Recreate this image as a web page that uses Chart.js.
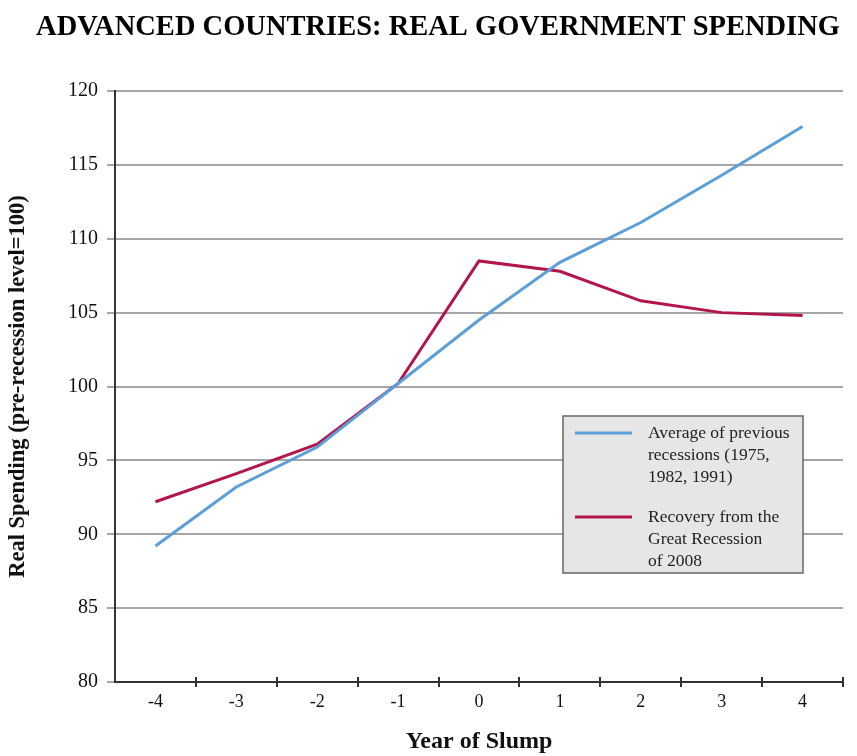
<!DOCTYPE html>
<html>
<head>
<meta charset="utf-8">
<script src="https://cdn.jsdelivr.net/npm/chart.js@4.4.1/dist/chart.umd.min.js"></script>
<style>
  html, body { margin: 0; padding: 0; background: #fff; }
  #wrap { width: 857px; height: 756px; position: relative; }
</style>
</head>
<body>
<div id="wrap"><canvas id="spendingChart"></canvas></div>
<script>
// Real government spending around the slump year, pre-recession level = 100
const years = ['-4', '-3', '-2', '-1', '0', '1', '2', '3', '4'];
const previousAvg = [89.2, 93.2, 95.9, 100.2, 104.5, 108.4, 111.1, 114.3, 117.6];
const greatRecession = [92.2, 94.1, 96.1, 100.2, 108.5, 107.8, 105.8, 105.0, 104.8];

const previousLabel = ['Average of previous', 'recessions (1975,', '1982, 1991)'];
const recessionLabel = ['Recovery from the', 'Great Recession', 'of 2008'];

const BLUE = '#5b9fd9';
const RED = '#b2164c';
const SERIF = "'Liberation Serif', 'Times New Roman', serif";

// heading above the plot
const titlePlugin = {
    id: 'heading',
    afterDraw(chart) {
        const ctx = chart.ctx;
        ctx.save();
        ctx.font = 'bold 28.5px ' + SERIF;
        ctx.fillStyle = '#000';
        ctx.textAlign = 'center';
        ctx.textBaseline = 'middle';
        ctx.fillText('ADVANCED COUNTRIES: REAL GOVERNMENT SPENDING', 438, 28);
        ctx.restore();
    }
};

// small tick marks crossing the x axis at category boundaries
const axisTicks = {
    id: 'axisTicks',
    afterDraw(chart) {
        const x = chart.scales.x;
        const ctx = chart.ctx;
        const step = x.width / years.length;
        ctx.save();
        ctx.strokeStyle = '#333';
        ctx.lineWidth = 2;
        for (let i = 1; i <= years.length; i++) {
            const px = Math.round(x.left + i * step);
            ctx.beginPath();
            ctx.moveTo(px, x.top - 5);
            ctx.lineTo(px, x.top + 5);
            ctx.stroke();
        }
        ctx.restore();
    }
};

// boxed legend inside the plot
const boxLegend = {
    id: 'boxLegend',
    afterDraw(chart) {
        const ctx = chart.ctx;
        const bx = 563, by = 416, bw = 240, bh = 157;
        ctx.save();
        ctx.fillStyle = '#e6e6e6';
        ctx.fillRect(bx, by, bw, bh);
        ctx.strokeStyle = '#666';
        ctx.lineWidth = 1.5;
        ctx.strokeRect(bx, by, bw, bh);

        const entries = [
            { color: BLUE, lines: previousLabel, y: 433 },
            { color: RED, lines: recessionLabel, y: 517 }
        ];
        ctx.font = '17.5px ' + SERIF;
        ctx.fillStyle = '#222';
        ctx.textAlign = 'left';
        ctx.textBaseline = 'middle';
        entries.forEach(e => {
            ctx.strokeStyle = e.color;
            ctx.lineWidth = 3;
            ctx.beginPath();
            ctx.moveTo(575, e.y);
            ctx.lineTo(632, e.y);
            ctx.stroke();
            e.lines.forEach((t, i) => ctx.fillText(t, 648, e.y + i * 22));
        });
        ctx.restore();
    }
};

new Chart(document.getElementById('spendingChart'), {
    type: 'line',
    data: {
        labels: years,
        datasets: [
            {
                label: previousLabel.join(' '),
                data: previousAvg,
                borderColor: BLUE,
                borderWidth: 3,
                pointRadius: 0,
                tension: 0
            },
            {
                label: recessionLabel.join(' '),
                data: greatRecession,
                borderColor: RED,
                borderWidth: 3,
                pointRadius: 0,
                tension: 0
            }
        ]
    },
    options: {
        responsive: true,
        maintainAspectRatio: false,
        animation: false,
        layout: { padding: { left: 5, top: 91, right: 14, bottom: 0 } },
        plugins: {
            legend: { display: false },
            title: { display: false },
            tooltip: { enabled: false }
        },
        scales: {
            x: {
                offset: true,
                grid: { display: false, drawTicks: false },
                border: { color: '#333', width: 2 },
                ticks: {
                    color: '#111',
                    font: { family: SERIF, size: 18 },
                    padding: 9,
                    maxRotation: 0
                },
                title: {
                    display: true,
                    text: 'Year of Slump',
                    color: '#111',
                    font: { family: SERIF, size: 24, weight: 'bold', lineHeight: 1 },
                    padding: { top: 10, bottom: 2 }
                },
                afterFit(scale) { scale.height = 74; }
            },
            y: {
                min: 80,
                max: 120,
                ticks: {
                    stepSize: 5,
                    color: '#111',
                    font: { family: SERIF, size: 20 },
                    padding: 9
                },
                grid: { color: '#a6a6a6', lineWidth: 2, tickLength: 8 },
                border: { color: '#333', width: 2 },
                title: {
                    display: true,
                    text: 'Real Spending (pre-recession level=100)',
                    color: '#111',
                    font: { family: SERIF, size: 22.5, weight: 'bold' },
                    padding: { top: 0, bottom: 0 }
                },
                afterFit(scale) { scale.width = 110; }
            }
        }
    },
    plugins: [titlePlugin, axisTicks, boxLegend]
});
</script>
</body>
</html>
